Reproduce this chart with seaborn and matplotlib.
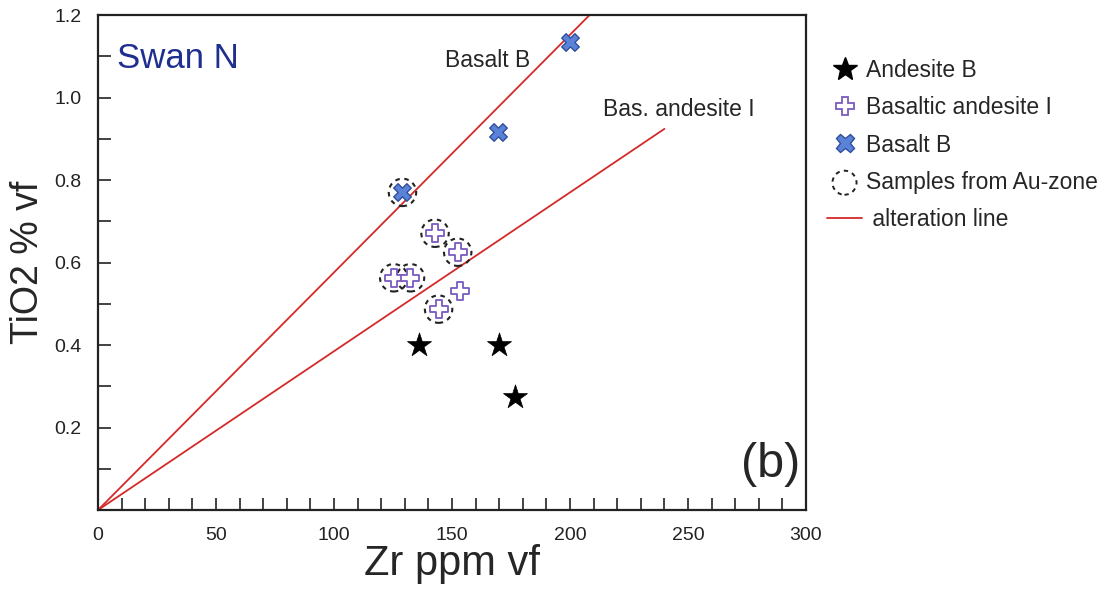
import numpy as np
import matplotlib
matplotlib.use("Agg")
import matplotlib.pyplot as plt
import seaborn as sns
from matplotlib.lines import Line2D

sns.set_style("ticks")
plt.rcParams['font.family'] = ['Liberation Sans', 'DejaVu Sans']

# Data
andesite_zr = [136, 170, 176.5]
andesite_ti = [0.40, 0.40, 0.274]

bas_andesite_zr = [142.8, 152.4, 125.3, 132.4, 153.2, 144.3]
bas_andesite_ti = [0.671, 0.625, 0.563, 0.563, 0.532, 0.487]

basalt_zr = [199.8, 169.4, 129]
basalt_ti = [1.135, 0.916, 0.77]

# samples from the Au-zone (circled)
au_zr = [129, 142.8, 152.4, 125.3, 132.4, 144.3]
au_ti = [0.77, 0.671, 0.625, 0.563, 0.563, 0.487]

# alteration lines through origin
line_basalt_zr = [0, 208.3]
line_basalt_ti = [0, 1.2]
line_basand_zr = [0, 240]
line_basand_ti = [0, 0.924]

red = "#d42a2a"
purple = "#7a5cc0"
blue_face = "#5a82d6"
blue_edge = "#2f4f9e"
dash = (0, (2.2, 2.2))

fig = plt.figure(figsize=(11.09, 5.91), dpi=100)
ax = fig.add_axes([0.0884, 0.137, 0.6384, 0.8376])

sns.lineplot(x=line_basalt_zr, y=line_basalt_ti, ax=ax, color=red, lw=1.3, sort=False)
sns.lineplot(x=line_basand_zr, y=line_basand_ti, ax=ax, color=red, lw=1.3, sort=False)

ax.scatter(au_zr, au_ti, s=390, facecolors='none', edgecolors='#222222',
           linewidths=1.5, linestyles=dash, zorder=3)

sns.scatterplot(x=andesite_zr, y=andesite_ti, ax=ax, marker='*', s=330,
                color='black', edgecolor='black', linewidth=0.5, zorder=4)
sns.scatterplot(x=bas_andesite_zr, y=bas_andesite_ti, ax=ax, marker='P', s=170,
                facecolor='white', edgecolor=purple, linewidth=1.3, zorder=4)
sns.scatterplot(x=basalt_zr, y=basalt_ti, ax=ax, marker='X', s=160,
                facecolor=blue_face, edgecolor=blue_edge, linewidth=1.0, zorder=4)

ax.set_xlim(0, 300)
ax.set_ylim(0, 1.2)
ax.set_xticks(np.arange(0, 301, 50))
ax.set_xticks(np.arange(0, 301, 10), minor=True)
ax.set_yticks([0.2, 0.4, 0.6, 0.8, 1.0, 1.2])
ax.set_yticks(np.arange(0, 1.21, 0.1), minor=True)
ax.tick_params(which='both', direction='in', width=1.2, colors='#222222')
ax.tick_params(axis='x', which='both', length=9, pad=12)
ax.tick_params(axis='y', which='both', length=9, pad=12)
ax.set_yticklabels(['0.2', '0.4', '0.6', '0.8', '1.0', '1.2'])
for lab in ax.get_xticklabels() + ax.get_yticklabels():
    lab.set_fontsize(14)
for sp in ax.spines.values():
    sp.set_linewidth(1.6)
    sp.set_color('#222222')

ax.set_xlabel("Zr ppm vf", fontsize=30, labelpad=0)
ax.set_ylabel("TiO2 % vf", fontsize=27, labelpad=6)

ax.text(8, 1.095, "Swan N", fontsize=25, color="#1f2f8f", va='center')
ax.text(165, 1.09, "Basalt B", fontsize=16.5, ha='center', va='center')
ax.text(214, 0.97, "Bas. andesite I", fontsize=16.5, ha='left', va='center')
ax.text(297.4, 0.11, "(b)", fontsize=35, ha='right', va='center')

au_handle = ax.scatter([], [], s=300, facecolors='none', edgecolors='#222222',
                       linewidths=1.4, linestyles=dash)
handles = [
    Line2D([], [], ls='none', marker='*', ms=18, color='black'),
    Line2D([], [], ls='none', marker='P', ms=13, mfc='white', mec=purple, mew=1.3),
    Line2D([], [], ls='none', marker='X', ms=13, mfc=blue_face, mec=blue_edge, mew=1.0),
    au_handle,
    Line2D([], [], color=red, lw=1.3),
]
labels = ["Andesite B", "Basaltic andesite I", "Basalt B",
          "Samples from Au-zone", " alteration line"]
leg = fig.legend(handles, labels, loc='upper left', bbox_to_anchor=(0.746, 0.9),
                 frameon=False, fontsize=16.5, handlelength=1.5, handletextpad=0.2,
                 labelspacing=0.62, borderpad=0, borderaxespad=0, scatterpoints=1)

fig.savefig("out.png", dpi=100)
